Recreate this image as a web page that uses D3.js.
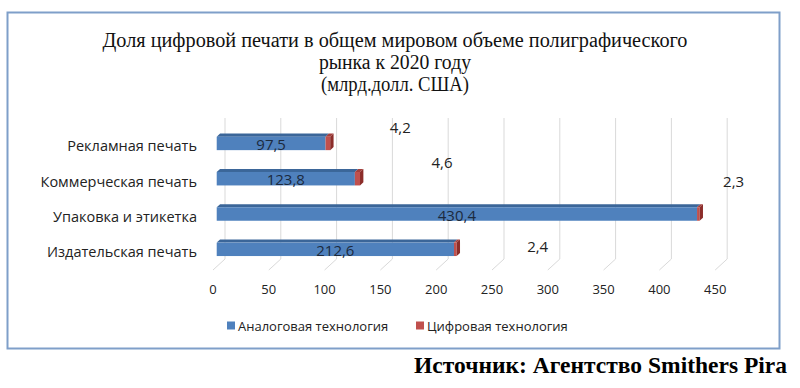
<!DOCTYPE html>
<html>
<head>
<meta charset="utf-8">
<script src="https://cdn.jsdelivr.net/npm/d3@7"></script>
<style>
  body { margin: 0; background: #fff; }
  svg { display: block; }
</style>
</head>
<body>
<div id="chart"></div>
<script>
// data
var categories = ["Рекламная печать", "Коммерческая печать", "Упаковка и этикетка", "Издательская печать"];
var analogValues = [97.5, 123.8, 430.4, 212.6];
var digitalValues = [4.2, 4.6, 2.3, 2.4];
var tickValues = [0, 50, 100, 150, 200, 250, 300, 350, 400, 450];
var seriesNames = ["Аналоговая технология", "Цифровая технология"];
var titleLines = ["Доля цифровой печати  в общем мировом объеме полиграфического", "рынка к 2020 году", "(млрд.долл. США)"];
var sourceText = "Источник: Агентство Smithers Pira";

// label nudges for the digital values (excel puts them oddly in 3d)
var digitalLabelNudge = [[70, -16], [82, -16], [34, -32], [81, -3]];

var W = 800, H = 388;
var blue = "#4f81bd", blueTop = "#3b6699", red = "#c0504d", redSide = "#8c2d2a";

var svg = d3.select("#chart").append("svg")
  .attr("width", W)
  .attr("height", H);

// frame
svg.append("rect")
  .attr("x", 7.5).attr("y", 12.5)
  .attr("width", 772).attr("height", 336)
  .attr("fill", "#fff")
  .attr("stroke", "#7f9fc9")
  .attr("stroke-width", 2);

// title
var title = svg.append("g").attr("font-family", "'Liberation Serif', 'Times New Roman', serif")
  .attr("font-size", "20px").attr("fill", "#111").attr("text-anchor", "middle");
var titleWidths = [585, 152, 148];
titleLines.forEach(function(t, i) {
  title.append("text")
    .attr("x", 395)
    .attr("y", 47 + i * 22)
    .attr("textLength", titleWidths[i])
    .attr("lengthAdjust", "spacingAndGlyphs")
    .text(t);
});

// scales: front floor edge, with a 3d depth vector
var x = d3.scaleLinear().domain([0, 450]).range([213, 213 + 9 * 55.8]);
var depth = [12, -11];
var floorY = 270;
var wallTop = 118;

var y = d3.scaleBand()
  .domain(categories)
  .range([125.75, 125.75 + 4 * 35.3])
  .paddingInner(0.618)
  .paddingOuter(0.309);

// gridlines on back wall + floor
var grid = svg.append("g").attr("stroke", "#d9d9d9").attr("stroke-width", 1).attr("fill", "none");
tickValues.forEach(function(v) {
  var xb = x(v) + depth[0];
  grid.append("path")
    .attr("d", "M" + xb + "," + wallTop + "V" + (floorY + depth[1]) + "L" + x(v) + "," + floorY);
});

// tick labels
svg.append("g").selectAll("text")
  .data(tickValues)
  .join("text")
  .attr("x", function(d) { return x(d); })
  .attr("y", 294)
  .attr("text-anchor", "middle")
  .attr("font-family", "'Open Sans', sans-serif")
  .attr("font-size", "13px")
  .attr("fill", "#222")
  .text(function(d) { return d; });

// category labels
svg.append("g").selectAll("text")
  .data(categories)
  .join("text")
  .attr("x", 197)
  .attr("y", function(d) { return y(d) + y.bandwidth() / 2 + 3; })
  .attr("dy", "0.35em")
  .attr("text-anchor", "end")
  .attr("font-family", "'Open Sans', sans-serif")
  .attr("font-size", "14.5px")
  .attr("fill", "#222")
  .text(function(d) { return d; });

// 3d bars
var off = [depth[0] * 0.31, depth[1] * 0.31];   // bar front sits a bit in
var dep = [depth[0] * 0.28, depth[1] * 0.28];   // bar thickness
var bh = y.bandwidth();

function box(g, x0, x1, y0, front, top, side) {
  g.append("path").attr("fill", top)
    .attr("d", "M" + x0 + "," + y0 + "L" + (x0 + dep[0]) + "," + (y0 + dep[1]) +
      "L" + (x1 + dep[0]) + "," + (y0 + dep[1]) + "L" + x1 + "," + y0 + "Z");
  g.append("rect").attr("fill", front)
    .attr("x", x0).attr("y", y0).attr("width", x1 - x0).attr("height", bh);
  if (side) {
    g.append("path").attr("fill", side)
      .attr("d", "M" + x1 + "," + y0 + "L" + (x1 + dep[0]) + "," + (y0 + dep[1]) +
        "L" + (x1 + dep[0]) + "," + (y0 + bh + dep[1]) + "L" + x1 + "," + (y0 + bh) + "Z");
  }
}

var bars = svg.append("g");
categories.forEach(function(c, i) {
  var g = bars.append("g");
  var y0 = y(c);
  var xa0 = x(0) + off[0], xa1 = x(analogValues[i]) + off[0];
  var xd1 = x(analogValues[i] + digitalValues[i]) + off[0];
  box(g, xa0, xa1, y0, blue, blueTop, null);
  box(g, xa1, xd1, y0, red, "#a33f3c", redSide);
});

// data labels
var labels = svg.append("g").attr("font-family", "'Open Sans', sans-serif")
  .attr("font-size", "15px").attr("text-anchor", "middle");
categories.forEach(function(c, i) {
  var cy = y(c) + bh / 2;
  labels.append("text")
    .attr("x", x(analogValues[i] / 2) + off[0])
    .attr("y", cy + 1.5)
    .attr("dy", "0.35em")
    .attr("fill", "#1c2a3d")
    .text(d3.format(".1f")(analogValues[i]).replace(".", ","));
  labels.append("text")
    .attr("x", x(analogValues[i] + digitalValues[i]) + off[0] + digitalLabelNudge[i][0])
    .attr("y", cy + digitalLabelNudge[i][1])
    .attr("dy", "0.35em")
    .attr("fill", "#222")
    .text(d3.format(".1f")(digitalValues[i]).replace(".", ","));
});

// legend
var legend = svg.append("g").attr("font-family", "'Open Sans', sans-serif").attr("font-size", "13px").attr("fill", "#222");
var legendX = [227, 416];
[blue, red].forEach(function(col, i) {
  legend.append("rect").attr("x", legendX[i]).attr("y", 321.5).attr("width", 8).attr("height", 8).attr("fill", col);
  legend.append("text").attr("x", legendX[i] + 11).attr("y", 326).attr("dy", "0.35em").text(seriesNames[i]);
});

// source
svg.append("text")
  .attr("x", 787)
  .attr("y", 373)
  .attr("text-anchor", "end")
  .attr("font-family", "'Liberation Serif', 'Times New Roman', serif")
  .attr("font-weight", "bold")
  .attr("font-size", "23.5px")
  .attr("fill", "#000")
  .text(sourceText);
</script>
</body>
</html>
